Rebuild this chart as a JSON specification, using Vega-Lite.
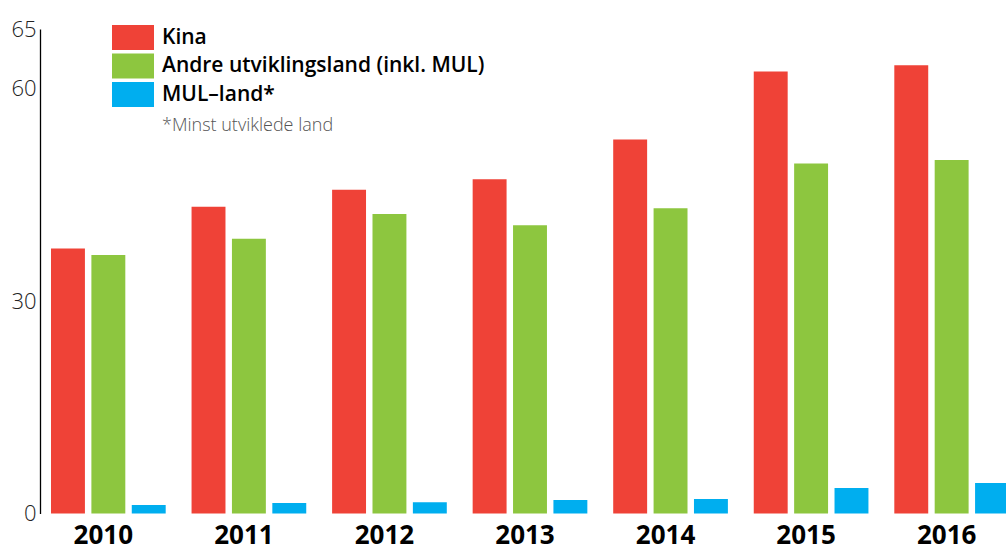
{
  "$schema": "https://vega.github.io/schema/vega-lite/v6.json",
  "autosize": {"type": "none"},
  "padding": {"left": 40, "top": 29, "right": -14, "bottom": 34.5},
  "width": 980,
  "height": 484.5,
  "background": "white",
  "config": {"view": {"stroke": null}, "font": "Open Sans"},
  "data": {
    "values": [
      {"year": "2010", "group": "Kina", "value": 37.4},
      {"year": "2010", "group": "Andre utviklingsland (inkl. MUL)", "value": 36.5},
      {"year": "2010", "group": "MUL–land*", "value": 1.2},
      {"year": "2011", "group": "Kina", "value": 43.3},
      {"year": "2011", "group": "Andre utviklingsland (inkl. MUL)", "value": 38.8},
      {"year": "2011", "group": "MUL–land*", "value": 1.5},
      {"year": "2012", "group": "Kina", "value": 45.7},
      {"year": "2012", "group": "Andre utviklingsland (inkl. MUL)", "value": 42.3},
      {"year": "2012", "group": "MUL–land*", "value": 1.6},
      {"year": "2013", "group": "Kina", "value": 47.2},
      {"year": "2013", "group": "Andre utviklingsland (inkl. MUL)", "value": 40.7},
      {"year": "2013", "group": "MUL–land*", "value": 1.9},
      {"year": "2014", "group": "Kina", "value": 52.8},
      {"year": "2014", "group": "Andre utviklingsland (inkl. MUL)", "value": 43.1},
      {"year": "2014", "group": "MUL–land*", "value": 2.05},
      {"year": "2015", "group": "Kina", "value": 62.4},
      {"year": "2015", "group": "Andre utviklingsland (inkl. MUL)", "value": 49.4},
      {"year": "2015", "group": "MUL–land*", "value": 3.6},
      {"year": "2016", "group": "Kina", "value": 63.3},
      {"year": "2016", "group": "Andre utviklingsland (inkl. MUL)", "value": 49.9},
      {"year": "2016", "group": "MUL–land*", "value": 4.3}
    ]
  },
  "mark": {"type": "bar"},
  "encoding": {
    "x": {
      "field": "year",
      "type": "nominal",
      "scale": {"paddingInner": 0.184, "paddingOuter": 0.0783},
      "axis": {
        "title": null,
        "domain": false,
        "ticks": false,
        "tickSize": 0,
        "labelAngle": 0,
        "labelFont": "Open Sans",
        "labelFontWeight": "bold",
        "labelFontSize": 26,
        "labelColor": "#000",
        "labelPadding": 9,
        "labelOffset": -5
      }
    },
    "xOffset": {
      "field": "group",
      "type": "nominal",
      "sort": ["Kina", "Andre utviklingsland (inkl. MUL)", "MUL–land*"],
      "scale": {"paddingInner": 0.16, "paddingOuter": 0}
    },
    "y": {
      "field": "value",
      "type": "quantitative",
      "scale": {"domain": [0, 68.4], "nice": false, "zero": true},
      "axis": {
        "title": null,
        "grid": false,
        "ticks": false,
        "tickSize": 0,
        "values": [0, 30, 60, 68.4],
        "labelExpr": "datum.value > 65 ? '65' : datum.label",
        "domainColor": "#000",
        "domainWidth": 1.3,
        "labelFont": "Open Sans",
        "labelFontWeight": 300,
        "labelFontSize": 22,
        "labelColor": "#222",
        "labelPadding": 4,
        "labelFlush": false,
        "offset": 0
      }
    },
    "color": {
      "field": "group",
      "type": "nominal",
      "sort": ["Kina", "Andre utviklingsland (inkl. MUL)", "MUL–land*"],
      "scale": {
        "domain": ["Kina", "Andre utviklingsland (inkl. MUL)", "MUL–land*"],
        "range": ["#EF4237", "#8DC63F", "#00AEEF"]
      },
      "legend": {
        "orient": "none",
        "legendX": 80.5,
        "legendY": -4,
        "padding": 0,
        "title": "*Minst utviklede land",
        "titleOrient": "bottom",
        "titleFont": "Open Sans",
        "titleFontWeight": 300,
        "titleFontSize": 18,
        "titleColor": "#555",
        "titlePadding": 10,
        "symbolType": "M-1.68,-1H1.68V1H-1.68Z",
        "symbolSize": 625,
        "symbolStrokeWidth": 0,
        "symbolOpacity": 1,
        "rowPadding": 3.5,
        "labelOffset": 16.5,
        "labelFont": "Open Sans",
        "labelFontWeight": 600,
        "labelFontSize": 21,
        "labelColor": "#000",
        "labelLimit": 500,
        "encode": {
          "symbols": {
            "update": {
              "fill": {
                "condition": [
                  {"test": "datum.value === 'Kina'", "value": "#C8262E"},
                  {"test": "datum.value === 'MUL–land*'", "value": "#00AEEF"}
                ],
                "value": "#8DC63F"
              }
            }
          },
          "title": {"update": {"dx": {"value": 41.5}}}
        }
      }
    }
  }
}
